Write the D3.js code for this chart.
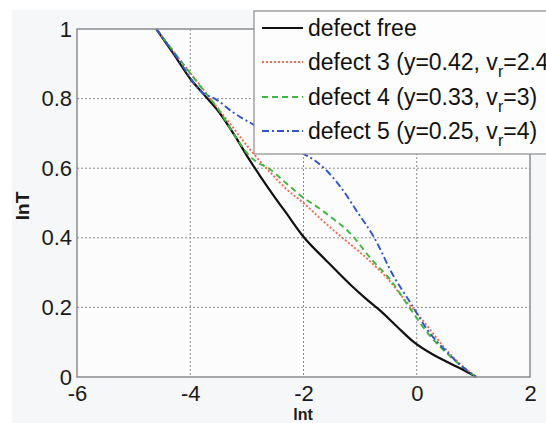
<!DOCTYPE html>
<html><head><meta charset="utf-8">
<script src="https://cdn.jsdelivr.net/npm/d3@7"></script>
<style>html,body{margin:0;padding:0;background:#fff;overflow:hidden}</style>
</head><body>
<script>
// ---- data ----
const xTicks = [-6, -4, -2, 0, 2];
const yTicks = [0, 0.2, 0.4, 0.6, 0.8, 1];
const seriesNames = ["defect free", "defect 3", "defect 4", "defect 5"];
const legendParams = [null, ["0.42", "2.4"], ["0.33", "3"], ["0.25", "4"]];

const freeX = [-4.6,-4.3,-4.0,-3.75,-3.5,-3.2,-2.97,-2.76,-2.5,-2.3,-2.0,-1.6,-1.17,-0.9,-0.64,-0.35,-0.05,0.3,0.6,0.85,1.05];
const freeY = [1.0,0.93,0.857,0.81,0.763,0.69,0.628,0.576,0.515,0.47,0.403,0.335,0.265,0.225,0.19,0.145,0.10,0.063,0.038,0.018,0.0];

const d3X = [-4.6,-4.2,-3.82,-3.5,-3.27,-2.94,-2.6,-2.3,-2.0,-1.7,-1.35,-1.05,-0.81,-0.5,-0.23,0.02,0.25,0.48,0.75,1.05];
const d3Y = [1.0,0.915,0.837,0.77,0.722,0.653,0.59,0.54,0.50,0.455,0.405,0.365,0.33,0.28,0.225,0.18,0.133,0.086,0.04,0.0];

const d4X = [-4.6,-4.2,-3.82,-3.5,-3.2,-2.94,-2.8,-2.64,-2.3,-2.0,-1.75,-1.52,-1.17,-0.81,-0.46,-0.11,0.19,0.6,1.05];
const d4Y = [1.0,0.915,0.835,0.768,0.69,0.633,0.615,0.602,0.556,0.515,0.488,0.46,0.412,0.34,0.278,0.195,0.127,0.058,0.0];

const d5X = [-4.6,-4.2,-3.82,-3.52,-3.24,-2.88,-2.5,-2.1,-1.8,-1.61,-1.35,-1.04,-0.76,-0.41,-0.11,0.19,0.55,0.8,1.05];
const d5Y = [1.0,0.91,0.822,0.795,0.76,0.725,0.69,0.65,0.622,0.596,0.547,0.472,0.403,0.29,0.213,0.135,0.069,0.03,0.0];

const seriesX = [freeX, d3X, d4X, d5X];
const seriesY = [freeY, d3Y, d4Y, d5Y];
const colors = ["#111111", "#f26a4f", "#3cb83c", "#2f55c8"];
const dashes = [null, "2,2", "6,4", "7,3,2,3"];

// ---- layout ----
const W = 546, H = 423;
const L = 77, R = 530, T = 29, B = 377;
const FONT = "'Liberation Sans', Arial, Helvetica, sans-serif";

const svg = d3.select("body").append("svg").attr("width", W).attr("height", H);
svg.append("rect").attr("x", 12).attr("y", 10).attr("width", W - 12).attr("height", H - 10).attr("fill", "#f6f7f9");
svg.append("rect").attr("x", L).attr("y", T).attr("width", R - L).attr("height", B - T).attr("fill", "#fcfcfd");

const x = d3.scaleLinear().domain([-6, 2]).range([L, R]);
const y = d3.scaleLinear().domain([0, 1]).range([B, T]);

// grid
const g = svg.append("g");
g.selectAll("line.gx").data(xTicks.slice(1, -1)).enter().append("line")
  .attr("x1", d => x(d)).attr("x2", d => x(d)).attr("y1", T).attr("y2", B)
  .attr("stroke", "#8a8a8a").attr("stroke-width", 1).attr("stroke-dasharray", "2,2");
g.selectAll("line.gy").data(yTicks.slice(1, -1)).enter().append("line")
  .attr("y1", d => y(d)).attr("y2", d => y(d)).attr("x1", L).attr("x2", R)
  .attr("stroke", "#8a8a8a").attr("stroke-width", 1).attr("stroke-dasharray", "2,2");

// axes via d3 axis
const xAxis = svg.append("g").attr("transform", `translate(0,${B})`)
  .call(d3.axisBottom(x).tickValues(xTicks).tickSize(0).tickPadding(6).tickFormat(d => String(d)));
const yAxis = svg.append("g").attr("transform", `translate(${L},0)`)
  .call(d3.axisLeft(y).tickValues(yTicks).tickSize(0).tickPadding(5).tickFormat(d => d === 0 || d === 1 ? String(d) : d3.format(".1f")(d)));
[xAxis, yAxis].forEach(a => {
  a.select(".domain").remove();
  a.selectAll("text").attr("font-family", FONT).attr("font-size", 22).attr("fill", "#1a1a1a");
});
xAxis.selectAll("text").attr("dy", "0.82em");

// lines
const line = d3.line().x(d => x(d[0])).y(d => y(d[1])).curve(d3.curveMonotoneX);
seriesX.forEach((xs, i) => {
  const pts = xs.map((v, j) => [v, seriesY[i][j]]);
  svg.append("path").attr("d", line(pts)).attr("fill", "none")
    .attr("stroke", colors[i]).attr("stroke-width", i === 0 ? 2.2 : 1.9)
    .attr("stroke-dasharray", dashes[i]);
});

// box
svg.append("rect").attr("x", L).attr("y", T).attr("width", R - L).attr("height", B - T)
  .attr("fill", "none").attr("stroke", "#8c8c8c").attr("stroke-width", 1.5);

// axis labels
svg.append("text").attr("transform", `translate(29,206) rotate(-90)`).attr("text-anchor", "middle")
  .attr("font-family", FONT).attr("font-size", 19).attr("font-weight", "bold").attr("fill", "#1a1a1a").text("lnT");
svg.append("text").attr("x", 303).attr("y", 420).attr("text-anchor", "middle")
  .attr("font-family", FONT).attr("font-size", 16).attr("font-weight", "bold").attr("fill", "#1a1a1a").text("lnt");

// legend
const lg = svg.append("g");
lg.append("rect").attr("x", 254).attr("y", 11).attr("width", 320).attr("height", 143)
  .attr("fill", "#fdfdfd").attr("stroke", "#8c8c8c").attr("stroke-width", 1.2);
const rowY = [28, 62, 97, 131];
seriesNames.forEach((name, i) => {
  lg.append("line").attr("x1", 262).attr("x2", 303).attr("y1", rowY[i]).attr("y2", rowY[i])
    .attr("stroke", colors[i]).attr("stroke-width", i === 0 ? 2.2 : 1.9).attr("stroke-dasharray", dashes[i]);
  const t = lg.append("text").attr("x", 308).attr("y", rowY[i] + 8)
    .attr("font-family", FONT).attr("font-size", 23).attr("fill", "#111");
  if (!legendParams[i]) { t.text(name); return; }
  t.append("tspan").text(`${name} (y=${legendParams[i][0]}, v`);
  t.append("tspan").attr("dy", 7).attr("font-size", 16).text("r");
  t.append("tspan").attr("dy", -7).text(`=${legendParams[i][1]})`);
});
</script>
</body></html>
